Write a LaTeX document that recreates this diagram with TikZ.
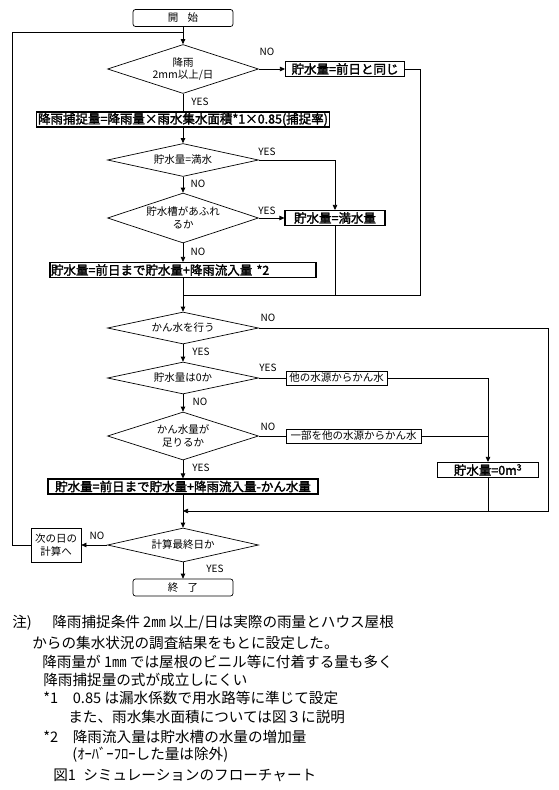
\documentclass[tikz,border=0pt]{standalone}
\usepackage{fontspec}
\setmainfont{Noto Sans CJK JP}
\newfontfamily\boldjp[FakeBold=2]{Noto Sans CJK JP}
\usetikzlibrary{arrows.meta, shapes.geometric}

\begin{document}
\begin{tikzpicture}[x=1pt, y=-1pt, line width=0.7pt,
    every node/.style={font=\fontsize{10.5}{12.5}\selectfont},
    terminal/.style={draw, rounded corners=2.5pt, minimum width=100pt, minimum height=17pt, inner sep=0pt},
    decision/.style={draw, diamond, shape aspect=3, inner sep=0pt, minimum width=151pt, minimum height=32pt, align=center},
    calcbox/.style={draw, line width=1.1pt, inner sep=1pt, minimum height=15pt, font=\boldjp\fontsize{12.5}{14}\selectfont},
    plainbox/.style={draw, inner sep=1pt, minimum height=14pt},
    lbl/.style={inner sep=0pt, font=\fontsize{10}{12}\selectfont},
    note/.style={anchor=west, inner sep=0pt, font=\fontsize{14.6}{17}\selectfont},
    flow/.style={-{Triangle[length=5pt, width=4.5pt]}}]
        \useasboundingbox (0,0) rectangle (558,790);

        % Flow nodes
        \node[terminal] (start) at (183,18) {開\hspace{0.9em}始};
        \node[decision, minimum height=49pt] (d1) at (183,69) {降雨\\2mm以上/日};
        \node[calcbox, minimum width=119pt] (same) at (345,69) {貯水量=前日と同じ};
        \node[calcbox, minimum width=293pt] (catch) at (183,119.5) {降雨捕捉量=降雨量×雨水集水面積*1×0.85(捕捉率)};
        \node[decision, minimum height=33pt] (d2) at (183,160) {貯水量=満水};
        \node[decision, minimum height=50pt] (d3) at (183,218) {貯水槽があふれ\\るか};
        \node[calcbox, minimum width=100pt] (full) at (335,218) {貯水量=満水量};
        \node[calcbox, text width=264pt, align=left] (before) at (183,270) {貯水量=前日まで貯水量+降雨流入量 *2};
        \node[decision] (d4) at (183,328) {かん水を行う};
        \node[decision] (d5) at (183,378) {貯水量は0か};
        \node[plainbox, minimum width=101pt] (other) at (336.5,378) {他の水源からかん水};
        \node[decision, minimum height=48pt] (d6) at (183,436) {かん水量が\\足りるか};
        \node[plainbox, minimum width=135pt] (part) at (353.5,436) {一部を他の水源からかん水};
        \node[calcbox, minimum width=101pt] (zero) at (488,470) {貯水量=0m\textsuperscript{3}};
        \node[calcbox, minimum width=270pt] (final) at (183,486.5) {貯水量=前日まで貯水量+降雨流入量-かん水量};
        \node[decision, minimum height=34pt] (d7) at (183,545) {計算最終日か};
        \node[draw, minimum width=50pt, minimum height=34pt, inner sep=0pt, align=center] (next) at (56,545) {次の日の\\計算へ};
        \node[terminal] (end) at (183,587.5) {終\hspace{0.9em}了};

        % Corners and joins
        \coordinate (join) at (183,32);
        \coordinate (loopL) at (12,32);
        \coordinate (sameR) at (420,295);
        \coordinate (merge1) at (183,295);
        \coordinate (noR) at (548,511);
        \coordinate (merge2) at (183,511);

        % Connectors
        \draw[flow] (start.south) -- (d1.north);
        \draw[flow] (d1.east) -- (same.west);
        \draw (d1.south) -- (catch.north);
        \draw[flow] (catch.south) -- (d2.north);
        \draw[flow] (d2.east) -| (full.north);
        \draw[flow] (d2.south) -- (d3.north);
        \draw[flow] (d3.east) -- (full.west);
        \draw[flow] (d3.south) -- (before.north);
        \draw (same.east) -| (sameR) -- (merge1);
        \draw (full.south) -- (full.south |- merge1);
        \draw (before.south) -- (merge1);
        \draw[flow] (merge1) -- (d4.north);
        \draw[flow] (d4.east) -| (noR) -- (merge2);
        \draw[flow] (d4.south) -- (d5.north);
        \draw (d5.east) -- (other.west);
        \draw[flow] (other.east) -| (zero.north);
        \draw[flow] (d5.south) -- (d6.north);
        \draw (d6.east) -- (part.west);
        \draw (part.east) -- (part.east -| zero.north);
        \draw[flow] (d6.south) -- (final.north);
        \draw (zero.south) -- (zero.south |- merge2);
        \draw (final.south) -- (merge2);
        \draw[flow] (merge2) -- (d7.north);
        \draw[flow] (d7.west) -- (next.east);
        \draw[flow] (d7.south) -- (end.north);
        \draw (next.west) -| (loopL) -- (join);

        % Branch labels
        \node[lbl] (no1) at (267,52) {NO};
        \node[lbl] (yes1) at (200,102) {YES};
        \node[lbl] (yes2) at (267,152) {YES};
        \node[lbl] (no2) at (198,184) {NO};
        \node[lbl] (yes3) at (267,211) {YES};
        \node[lbl] (no3) at (198,252) {NO};
        \node[lbl] (no4) at (268,318) {NO};
        \node[lbl] (yes4) at (201,352) {YES};
        \node[lbl] (yes5) at (268,368) {YES};
        \node[lbl] (no5) at (200,402) {NO};
        \node[lbl] (no6) at (268,427) {NO};
        \node[lbl] (yes6) at (201,468) {YES};
        \node[lbl] (no7) at (97,536) {NO};
        \node[lbl] (yes7) at (215,569) {YES};

        % Notes
        \node[note] (n0) at (12,623) {注)};
        \node[note] (n1) at (52,623) {降雨捕捉条件 2㎜ 以上/日は実際の雨量とハウス屋根};
        \node[note] (n2) at (32,643) {からの集水状況の調査結果をもとに設定した。};
        \node[note] (n3) at (42,662) {降雨量が 1㎜ では屋根のビニル等に付着する量も多く};
        \node[note] (n4) at (43,680) {降雨捕捉量の式が成立しにくい};
        \node[note] (n5) at (43,698) {*1\hspace{1em}0.85 は漏水係数で用水路等に準じて設定};
        \node[note] (n6) at (68,717) {また、雨水集水面積については図３に説明};
        \node[note] (n7) at (43,737) {*2\hspace{1em}降雨流入量は貯水槽の水量の増加量};
        \node[note] (n8) at (72,755) {(ｵｰﾊﾞｰﾌﾛｰした量は除外)};
        \node[note, font=\fontsize{14.6}{17}\selectfont] (cap) at (53,775) {図1\hspace{0.5em}シミュレーションのフローチャート};
      \end{tikzpicture}
\end{document}
